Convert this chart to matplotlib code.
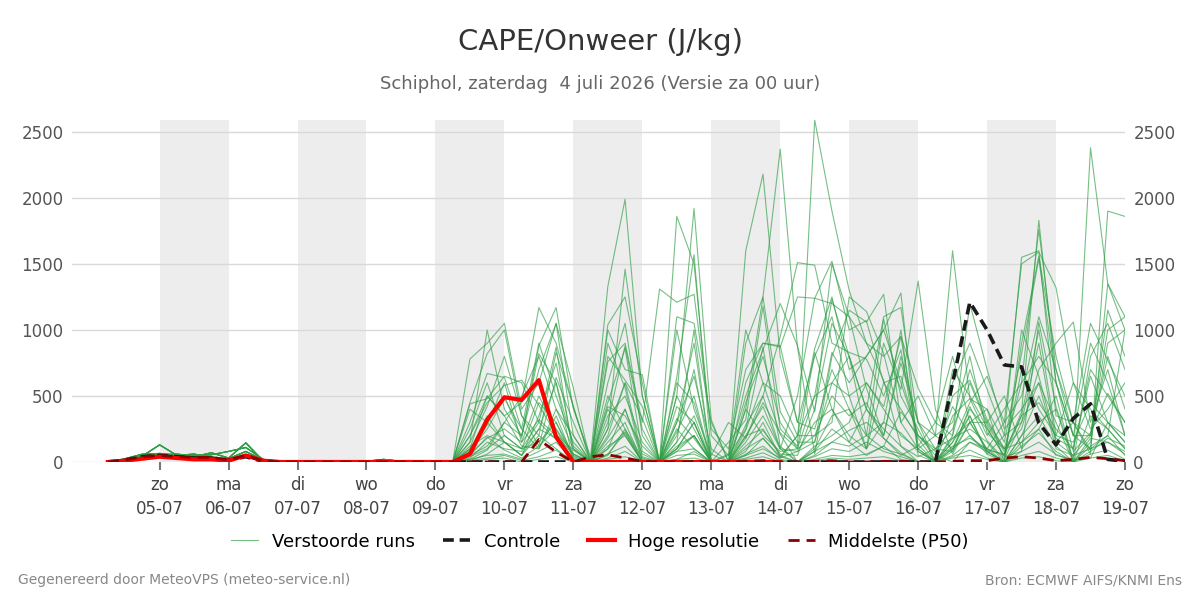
import pandas as pd
import matplotlib.pyplot as plt

# 6-hourly steps from 04-07 06 UTC up to 19-07 00 UTC
times = pd.date_range('2026-07-04 06:00', periods=60, freq='6h')

# first 20 steps (04-07 06h .. 09-07 00h), the members hardly differ there
early_a = [0, 20, 55, 65, 50, 60, 35, 25, 80, 15, 5, 5, 5, 5, 0, 5, 20, 5, 0, 0]
early_b = [0, 15, 45, 130, 50, 40, 70, 30, 145, 10, 0, 0, 0, 5, 0, 0, 10, 0, 0, 0]
early_c = [0, 25, 60, 55, 60, 45, 55, 80, 110, 20, 5, 0, 0, 0, 0, 5, 5, 0, 0, 0]
early_d = [0, 10, 35, 45, 40, 50, 30, 15, 40, 5, 0, 0, 0, 0, 5, 0, 0, 0, 0, 0]
early_parts = [early_a, early_b, early_c, early_d]

# remaining 40 steps (09-07 06h .. 19-07 00h) per perturbed member
late_parts = [
    [0, 450, 820, 1000, 350, 120, 640, 300, 0, 60, 220, 0, 0, 20, 80, 0,
     150, 320, 1180, 250, 120, 2590, 1900, 1300, 900, 620, 120, 40, 100, 180, 300, 90, 60, 380, 1830, 600, 80, 220, 520, 300],
    [0, 60, 300, 500, 180, 880, 1170, 400, 40, 1330, 1990, 500, 0, 100, 300, 0,
     0, 50, 180, 30, 200, 500, 600, 800, 400, 1100, 1170, 300, 100, 80, 420, 160, 20, 300, 900, 150, 300, 90, 1350, 1100],
    [0, 780, 900, 1050, 400, 600, 1050, 560, 0, 100, 400, 20, 0, 1860, 1500, 200,
     50, 500, 850, 1200, 880, 380, 1500, 1100, 900, 800, 950, 560, 300, 200, 700, 320, 100, 150, 250, 50, 20, 30, 300, 200],
    [0, 200, 450, 580, 620, 430, 210, 90, 0, 1040, 1250, 600, 0, 500, 1920, 320,
     0, 400, 1250, 2370, 870, 60, 800, 1150, 1060, 1270, 300, 100, 0, 700, 500, 260, 40, 80, 1060, 420, 20, 2380, 1350, 1000],
    [0, 100, 500, 350, 450, 1170, 900, 420, 0, 250, 1460, 500, 0, 300, 650, 100,
     0, 1600, 2180, 800, 300, 250, 700, 400, 100, 900, 550, 1370, 400, 60, 300, 400, 150, 820, 1540, 600, 200, 900, 600, 200],
    [0, 440, 480, 650, 600, 300, 170, 0, 0, 760, 900, 300, 1310, 1210, 1270, 250,
     100, 700, 900, 870, 1250, 1240, 1520, 1000, 1070, 600, 650, 200, 50, 0, 150, 100, 300, 500, 1100, 700, 200, 100, 200, 1000],
    [0, 150, 1000, 400, 200, 820, 600, 120, 0, 450, 860, 80, 0, 100, 200, 0,
     60, 1000, 600, 500, 200, 860, 1250, 700, 800, 1000, 1280, 50, 0, 100, 350, 60, 200, 1550, 1600, 350, 300, 200, 800, 400],
    [0, 50, 120, 300, 200, 700, 1050, 200, 0, 1000, 700, 660, 0, 640, 1570, 60,
     0, 200, 420, 100, 500, 1240, 1200, 1100, 560, 200, 750, 300, 200, 1600, 480, 200, 400, 600, 1760, 700, 300, 60, 1900, 1860],
    [0, 120, 200, 150, 100, 300, 870, 40, 0, 200, 600, 40, 0, 1000, 400, 50,
     300, 180, 450, 220, 100, 500, 1230, 800, 200, 300, 1000, 100, 200, 300, 800, 220, 100, 250, 700, 900, 1060, 300, 700, 200],
    [0, 80, 250, 480, 250, 100, 400, 200, 0, 350, 500, 150, 0, 420, 300, 0,
     0, 280, 500, 100, 80, 150, 830, 600, 800, 1000, 600, 200, 80, 420, 200, 80, 0, 200, 500, 180, 100, 700, 500, 300],
    [0, 20, 90, 300, 500, 800, 400, 100, 0, 900, 560, 0, 0, 200, 700, 0,
     0, 80, 300, 40, 200, 200, 500, 350, 450, 180, 50, 120, 300, 800, 300, 300, 500, 100, 250, 500, 0, 150, 900, 1000],
    [0, 250, 600, 200, 100, 450, 300, 50, 0, 600, 1050, 200, 0, 300, 900, 20,
     0, 450, 800, 300, 100, 830, 400, 200, 100, 600, 400, 180, 0, 150, 450, 650, 300, 1500, 1590, 1320, 600, 400, 250, 100],
    [0, 30, 150, 100, 80, 250, 600, 0, 0, 150, 300, 0, 0, 500, 250, 0,
     0, 120, 240, 60, 50, 400, 1050, 800, 400, 200, 800, 300, 0, 200, 1200, 700, 250, 400, 600, 300, 0, 800, 1050, 700],
    [0, 400, 300, 150, 50, 200, 100, 0, 0, 50, 250, 0, 0, 80, 200, 0,
     0, 50, 100, 30, 80, 300, 400, 150, 50, 120, 380, 200, 100, 250, 600, 280, 80, 350, 1000, 200, 150, 450, 300, 150],
    [0, 60, 180, 250, 150, 500, 250, 60, 0, 300, 880, 250, 0, 150, 1000, 0,
     50, 250, 870, 120, 0, 100, 350, 400, 200, 1080, 500, 250, 0, 80, 300, 100, 50, 700, 400, 200, 600, 250, 400, 600],
    [0, 10, 60, 150, 50, 350, 750, 100, 0, 500, 250, 30, 0, 230, 500, 0,
     0, 900, 1250, 380, 150, 150, 600, 500, 100, 300, 220, 80, 0, 600, 900, 550, 200, 300, 600, 100, 50, 100, 150, 80],
    [0, 200, 500, 350, 120, 100, 350, 30, 0, 420, 350, 120, 0, 250, 100, 0,
     0, 400, 200, 80, 100, 200, 300, 1250, 1140, 820, 300, 500, 200, 100, 400, 250, 50, 350, 450, 250, 100, 650, 300, 150],
    [0, 40, 100, 200, 100, 150, 300, 20, 0, 180, 400, 60, 0, 100, 300, 0,
     0, 200, 250, 50, 0, 120, 200, 300, 600, 400, 200, 100, 0, 50, 150, 80, 0, 1000, 650, 150, 50, 200, 1000, 1100],
    [0, 90, 350, 150, 50, 250, 180, 0, 0, 120, 200, 0, 0, 330, 180, 0,
     0, 150, 350, 100, 0, 50, 150, 240, 300, 180, 70, 0, 0, 180, 250, 150, 0, 150, 300, 400, 0, 350, 250, 100],
    [0, 20, 50, 60, 20, 80, 150, 10, 0, 60, 120, 0, 0, 80, 100, 0,
     0, 60, 120, 20, 0, 40, 100, 80, 150, 80, 40, 0, 0, 100, 200, 60, 0, 80, 150, 60, 0, 120, 200, 50],
    [0, 10, 30, 50, 10, 40, 90, 0, 0, 30, 80, 0, 0, 50, 60, 0,
     0, 30, 70, 10, 0, 20, 50, 40, 60, 120, 20, 0, 0, 40, 90, 30, 0, 50, 80, 30, 0, 60, 90, 20],
    [0, 300, 670, 640, 250, 900, 500, 150, 0, 250, 600, 330, 0, 600, 450, 0,
     0, 180, 500, 950, 1510, 1490, 900, 830, 780, 500, 850, 80, 0, 350, 480, 400, 0, 900, 1560, 800, 300, 1050, 770, 500],
    [0, 150, 420, 800, 350, 200, 830, 420, 0, 800, 620, 420, 0, 1100, 1050, 300,
     0, 600, 900, 880, 300, 800, 1100, 500, 600, 420, 950, 130, 0, 500, 620, 300, 100, 600, 800, 600, 200, 200, 1150, 800],
    [0, 100, 280, 600, 150, 320, 200, 60, 0, 400, 200, 0, 0, 150, 350, 0,
     0, 240, 600, 210, 0, 80, 250, 150, 400, 250, 120, 0, 0, 150, 350, 80, 0, 200, 350, 120, 0, 80, 180, 120],
    [0, 50, 190, 90, 30, 120, 250, 0, 0, 100, 230, 0, 0, 120, 200, 0,
     0, 100, 180, 40, 0, 80, 150, 120, 200, 100, 60, 0, 0, 120, 180, 100, 0, 120, 220, 80, 0, 180, 150, 60],
    [0, 0, 20, 30, 0, 20, 40, 0, 0, 20, 40, 0, 0, 20, 30, 0,
     0, 20, 40, 0, 0, 10, 30, 20, 30, 40, 10, 0, 0, 30, 50, 20, 0, 30, 40, 10, 0, 30, 50, 10],
]

controle = [0, 15, 40, 50, 40, 30, 30, 15, 40, 5, 0, 0, 0, 0, 0, 0, 5, 0, 0, 0,
            0, 0, 0, 0, 0, 0, 0, 0, 0, 0, 0, 0, 0, 0, 0, 0, 0, 0, 0, 0,
            0, 0, 0, 0, 0, 0, 0, 0, 0, 600, 1210, 1000, 735, 720, 295, 130, 330, 440, 20, 5]

# high resolution run stops after 10 days
hoge_res = [0, 10, 25, 40, 30, 20, 20, 10, 50, 10, 0, 0, 0, 0, 0, 0, 0, 0, 0, 0,
            0, 60, 320, 490, 470, 620, 190, 0, 0, 0, 0, 0, 0, 0, 0, 0, 0, 0, 0, 0]

p50 = [0, 15, 40, 50, 40, 35, 35, 15, 50, 8, 0, 0, 0, 0, 0, 0, 0, 0, 0, 0,
       0, 0, 0, 0, 0, 170, 75, 0, 40, 55, 30, 5, 0, 0, 5, 0, 0, 5, 10, 0,
       0, 5, 10, 0, 0, 5, 5, 0, 0, 5, 10, 10, 30, 40, 30, 10, 20, 35, 25, 10]

day_names = ['ma', 'di', 'wo', 'do', 'vr', 'za', 'zo']  # pandas dayofweek 0 = monday
tick_days = pd.date_range('2026-07-05', '2026-07-19', freq='D')

plt.rcParams['font.family'] = 'DejaVu Sans'
fig = plt.figure(figsize=(12, 6), dpi=100)
ax = fig.add_axes([0.06, 0.23, 0.8775, 0.57])

# grey bands on every other day
for d in tick_days[:-1:2]:
    ax.axvspan(d, d + pd.Timedelta(days=1), color='#ededed', zorder=0, lw=0)

for k, late in enumerate(late_parts):
    ax.plot(times, early_parts[k % 4] + late, color='#2e9e44', alpha=0.65, lw=0.8, zorder=2)

ax.plot(times, controle, color='#1a1a1a', lw=2.6, ls=(0, (3, 1.6)), zorder=3)
ax.plot(times[:len(hoge_res)], hoge_res, color='#ff0000', lw=3, zorder=4)
ax.plot(times, p50, color='#8b0000', lw=2, ls=(0, (4, 2.5)), zorder=5)

ax.set_xlim(pd.Timestamp('2026-07-03 17:30'), pd.Timestamp('2026-07-19 00:00'))
ax.set_ylim(0, 2590)
ax.set_yticks([0, 500, 1000, 1500, 2000, 2500])
ax.grid(axis='y', color='#d9d9d9', lw=1, zorder=1)
ax.set_axisbelow(True)

ax.set_xticks(tick_days)
ax.set_xticklabels([f"{day_names[d.dayofweek]}\n{d.strftime('%d-%m')}" for d in tick_days],
                   fontsize=12, color='#444444', linespacing=1.45)
ax.tick_params(axis='x', length=6, width=1.5, color='#777777', pad=4)
ax.tick_params(axis='y', length=0, labelsize=12, labelcolor='#555555', labelleft=True, labelright=True, pad=6)
for s in ax.spines.values():
    s.set_visible(False)

fig.text(0.5, 0.93, 'CAPE/Onweer (J/kg)', ha='center', va='center', fontsize=21, color='#333333')
fig.text(0.5, 0.86, 'Schiphol, zaterdag  4 juli 2026 (Versie za 00 uur)', ha='center', va='center',
         fontsize=13, color='#666666')

handles = [
    plt.Line2D([], [], color='#2e9e44', alpha=0.65, lw=0.8),
    plt.Line2D([], [], color='#1a1a1a', lw=2.6, ls=(0, (3, 1.6))),
    plt.Line2D([], [], color='#ff0000', lw=3),
    plt.Line2D([], [], color='#8b0000', lw=2, ls=(0, (4, 2.5))),
]
fig.legend(handles, ['Verstoorde runs', 'Controle', 'Hoge resolutie', 'Middelste (P50)'],
           loc='center', bbox_to_anchor=(0.5, 0.097), ncol=4, frameon=False, fontsize=13,
           handlelength=1.5, columnspacing=1.55, handletextpad=0.75)

fig.text(0.015, 0.033, 'Gegenereerd door MeteoVPS (meteo-service.nl)', ha='left', va='center',
         fontsize=10, color='#888888')
fig.text(0.985, 0.033, 'Bron: ECMWF AIFS/KNMI Ens', ha='right', va='center', fontsize=10, color='#888888')

fig.savefig('out.png', dpi=100)
